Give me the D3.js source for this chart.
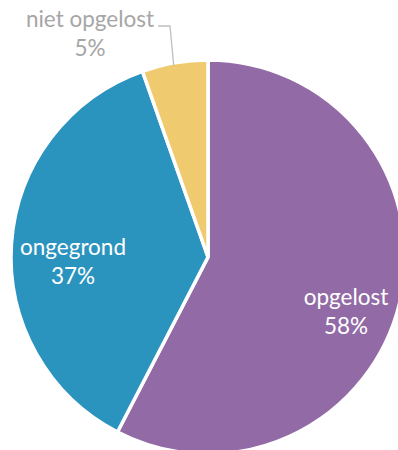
<!DOCTYPE html>
<html>
<head>
<meta charset="utf-8">
<script src="https://cdn.jsdelivr.net/npm/d3@7"></script>
<style>
  html, body { margin: 0; padding: 0; background: #ffffff; }
  svg { display: block; }
  text { font-family: Lato, "Open Sans", sans-serif; }
</style>
</head>
<body>
<svg id="chart" width="398" height="450"></svg>
<script>
const categories = ["opgelost", "ongegrond", "niet opgelost"];
const values = [57.6, 37.0, 5.4];
const percentLabels = ["58%", "37%", "5%"];
const colors = ["#926ba6", "#2b94be", "#f0ca6e"];

const width = 398, height = 450;
const cx = 208, cy = 257, radius = 197;

const svg = d3.select("#chart");
const g = svg.append("g").attr("transform", `translate(${cx},${cy})`);

const pie = d3.pie().sort(null).value(d => d.value);
const data = pie(categories.map((c, i) => ({ cat: c, value: values[i], pct: percentLabels[i], color: colors[i] })));

const arc = d3.arc().innerRadius(0).outerRadius(radius);

g.selectAll("path.slice")
  .data(data)
  .enter().append("path")
  .attr("class", "slice")
  .attr("d", arc)
  .attr("fill", d => d.data.color)
  .attr("stroke", "#ffffff")
  .attr("stroke-width", 3.5)
  .attr("stroke-linejoin", "miter");

// label layout (relative to pie centre): [x, y of first baseline]
const labelPos = {
  "opgelost": [138, 48],
  "ongegrond": [-135, -2],
  "niet opgelost": [-118, -230]
};
const labelColor = {
  "opgelost": "#ffffff",
  "ongegrond": "#ffffff",
  "niet opgelost": "#a6a6a6"
};

// leader line for the outside label
const small = data[2];
const edge = d3.arc().innerRadius(radius).outerRadius(radius).centroid(small);
const lp = labelPos["niet opgelost"];
g.append("polyline")
  .attr("points", [[lp[0] + 68, lp[1] - 1], [lp[0] + 80, lp[1] - 1], [edge[0] - 1, -radius + 6]].map(p => p.join(",")).join(" "))
  .attr("fill", "none")
  .attr("stroke", "#bfbfbf")
  .attr("stroke-width", 1.3);

const labels = g.selectAll("text.lbl")
  .data(data)
  .enter().append("text")
  .attr("class", "lbl")
  .attr("text-anchor", "middle")
  .attr("font-size", 22.5)
  .attr("fill", d => labelColor[d.data.cat]);

labels.append("tspan")
  .attr("x", d => labelPos[d.data.cat][0])
  .attr("y", d => labelPos[d.data.cat][1])
  .text(d => d.data.cat);
labels.append("tspan")
  .attr("x", d => labelPos[d.data.cat][0])
  .attr("y", d => labelPos[d.data.cat][1] + 29)
  .text(d => d.data.pct);
</script>
</body>
</html>
